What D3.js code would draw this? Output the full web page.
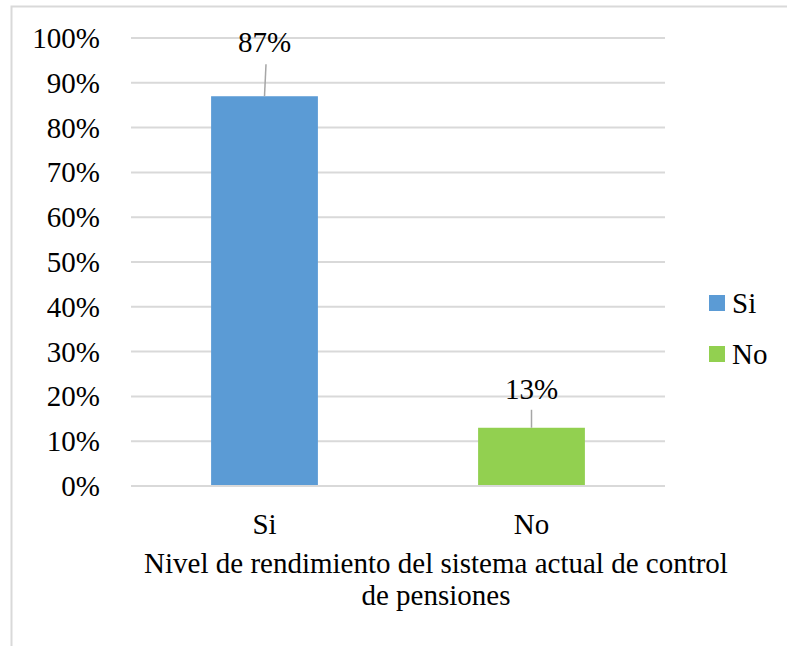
<!DOCTYPE html>
<html>
<head>
<meta charset="utf-8">
<script src="https://cdn.jsdelivr.net/npm/d3@7"></script>
</head>
<body style="margin:0">
<svg id="chart" width="787" height="646"></svg>
<script>
// ---- data ----
const categories = ["Si", "No"];
const values = [0.87, 0.13];
const valueLabels = ["87%", "13%"];
const colors = ["#5b9bd5", "#92d050"];
const yTicks = [0, 0.1, 0.2, 0.3, 0.4, 0.5, 0.6, 0.7, 0.8, 0.9, 1.0];
const yTickLabels = ["0%", "10%", "20%", "30%", "40%", "50%", "60%", "70%", "80%", "90%", "100%"];
const xTitleLines = ["Nivel de rendimiento del sistema actual de control", "de pensiones"];

// ---- layout ----
const W = 787, H = 646;
const plot = { left: 131, right: 665, top: 38, bottom: 486 };
const fonts = ["Times New Roman"];
const fontSize = 29;
const labelLift = [44, 29];
const leaderGap = [32, 18];

const svg = d3.select("#chart");

// outer chart border
svg.append("rect")
  .attr("x", 11.5).attr("y", 6.5)
  .attr("width", W + 20).attr("height", H + 20)
  .attr("fill", "#fff").attr("stroke", "#d9d9d9").attr("stroke-width", 2);

const x = d3.scaleBand().domain(categories)
  .range([plot.left, plot.right]).paddingInner(0.6).paddingOuter(0.3);
const y = d3.scaleLinear().domain([0, 1]).range([plot.bottom, plot.top]);

// gridlines
svg.selectAll("line.grid").data(yTicks).join("line").attr("class", "grid")
  .attr("x1", plot.left).attr("x2", plot.right)
  .attr("y1", d => y(d)).attr("y2", d => y(d))
  .attr("stroke", "#d9d9d9").attr("stroke-width", 2);

// bars
svg.selectAll("rect.bar").data(categories).join("rect").attr("class", "bar")
  .attr("x", d => x(d))
  .attr("width", x.bandwidth())
  .attr("y", (d, i) => y(values[i]))
  .attr("height", (d, i) => y(0) - y(values[i]))
  .attr("fill", (d, i) => colors[i]);

svg.append("line")
  .attr("x1", plot.left).attr("x2", plot.right)
  .attr("y1", y(0)).attr("y2", y(0))
  .attr("stroke", "#d9d9d9").attr("stroke-width", 2);

// leader lines
svg.selectAll("line.leader").data(categories).join("line").attr("class", "leader")
  .attr("x1", (d, i) => x(d) + x.bandwidth() / 2 + (i === 0 ? 1.5 : 0))
  .attr("x2", d => x(d) + x.bandwidth() / 2)
  .attr("y1", (d, i) => y(values[i]) - leaderGap[i])
  .attr("y2", (d, i) => y(values[i]))
  .attr("stroke", "#a6a6a6").attr("stroke-width", 1.5);

// collect all texts as records, then draw them directly on the svg
const texts = [];
yTicks.forEach((d, i) => texts.push({ t: yTickLabels[i], x: plot.left - 31, y: y(d) + 10, a: "end" }));
categories.forEach((d, i) => texts.push({ t: valueLabels[i], x: x(d) + x.bandwidth() / 2, y: y(values[i]) - labelLift[i], a: "middle" }));
categories.forEach(d => texts.push({ t: d, x: x(d) + x.bandwidth() / 2, y: 534, a: "middle" }));
xTitleLines.forEach((d, i) => texts.push({ t: d, x: 436, y: 573 + i * 32, a: "middle" }));
categories.forEach((d, i) => texts.push({ t: d, x: 732, y: 313 + i * 51, a: "start" }));

svg.selectAll("text").data(texts).join("text")
  .attr("x", d => d.x).attr("y", d => d.y)
  .attr("text-anchor", d => d.a)
  .attr("font-family", () => fonts[0])
  .attr("font-size", fontSize)
  .text(d => d.t);

// legend swatches
svg.selectAll("rect.sw").data(categories).join("rect").attr("class", "sw")
  .attr("x", 709).attr("y", (d, i) => 295 + i * 51)
  .attr("width", 16).attr("height", 16)
  .attr("fill", (d, i) => colors[i]);
</script>
</body>
</html>
